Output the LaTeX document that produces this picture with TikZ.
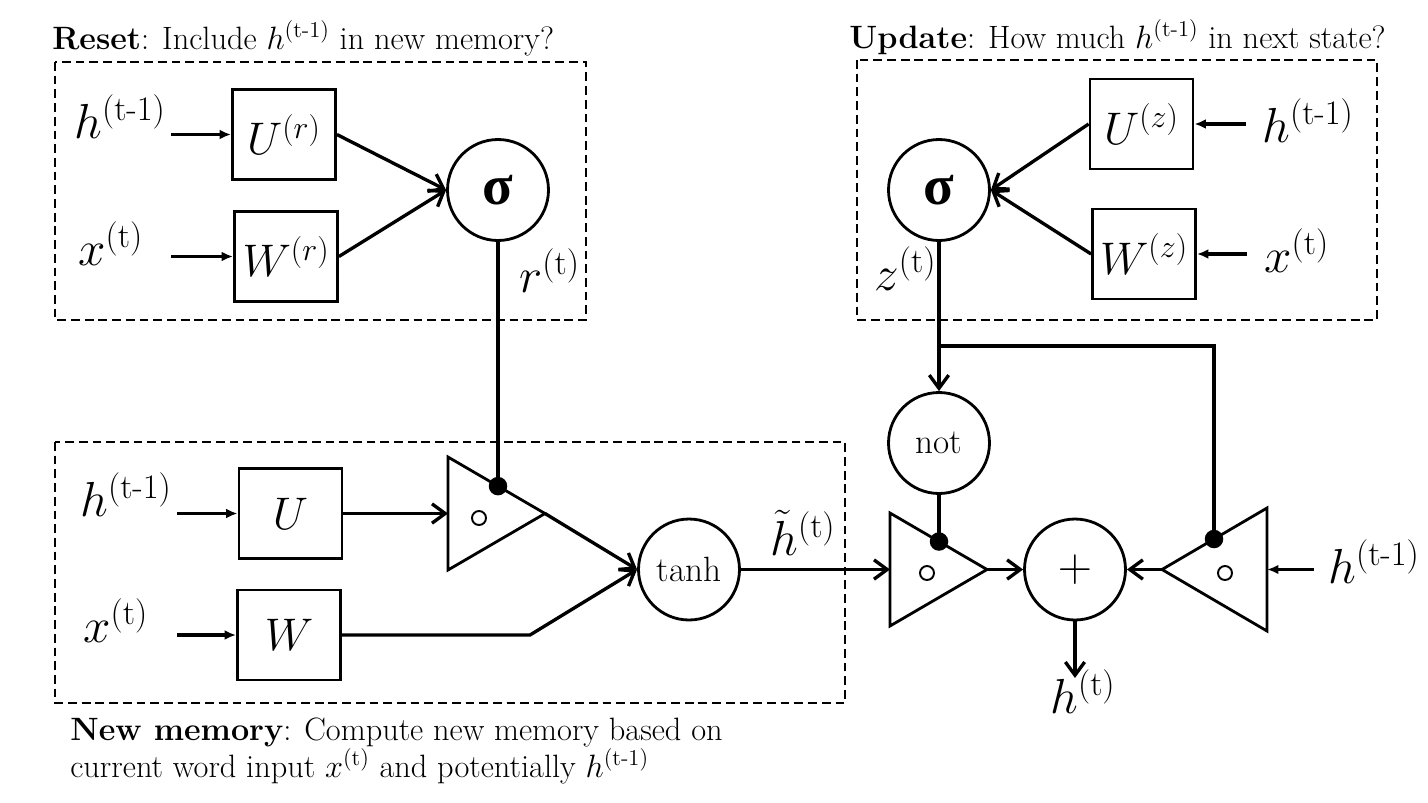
\RequirePackage{fix-cm}
\documentclass[tikz,border=0pt]{standalone}
\usepackage{amsmath}
\usepackage{fontspec}
\newfontfamily\sigfont{Liberation Serif}
\usetikzlibrary{arrows.meta,calc}
\newcommand{\tm}{\mathrm{t}\text{-}\mathrm{1}}
\begin{document}
\begin{tikzpicture}[x=0.02cm,y=-0.02cm,
  box/.style={draw,line width=1.6pt,minimum width=2.06cm,minimum height=1.8cm,inner sep=0,font=\fontsize{26}{30}\selectfont},
  circ/.style={draw,circle,line width=1.6pt,minimum size=2.02cm,inner sep=0},
  lab/.style={inner sep=0,font=\fontsize{28}{32}\selectfont},
  ttl/.style={inner sep=0,font=\fontsize{18.4}{22}\selectfont},
  grp/.style={draw,line width=1.4pt,dash pattern=on 5pt off 2.8pt},
  wire/.style={line width=1.9pt},
  inarr/.style={wire,-{Latex[length=6.5pt,width=5.5pt]}},
  barb/.style={wire,-{Straight Barb[length=7.5pt,width=11pt,line width=1.9pt]}},
  gate/.style={draw,line width=1.6pt,line join=miter},
  jdot/.style={circle,fill,inner sep=0,minimum size=0.37cm},
  hole/.style={circle,draw,line width=1.1pt,inner sep=0,minimum size=0.28cm},
  sig/.style={circ,font=\sigfont\bfseries\fontsize{32}{32}\selectfont},
  wordc/.style={circ,font=\fontsize{20}{24}\selectfont}
]
\useasboundingbox (0,0) rectangle (1428,802);

% ---------- Reset gate ----------
\node[ttl,anchor=base west] (tR) at (52,49) {\textbf{Reset}: Include $h^{(\tm)}$ in new memory?};
\draw[grp] (55,62) rectangle (586,320);
\node[box] (Ur) at (284,134.5) {$U^{(r)}$};
\node[box] (Wr) at (286,256.5) {$W^{(r)}$};
\node[sig] (sR) at (498,190) {σ};
\node[lab,anchor=base west] (hR) at (74,138) {$h^{(\tm)}$};
\node[lab,anchor=base west] (xR) at (78,265) {$x^{(\mathrm{t})}$};
\node[lab,anchor=base west] (rt) at (519,292) {$r^{(\mathrm{t})}$};
\coordinate (hRa) at (171,134.5);
\coordinate (xRa) at (171,256.5);
\draw[inarr] (hRa) -- (Ur.west);
\draw[inarr] (xRa) -- (Wr.west);
\draw[barb] (Ur.east) -- (sR.west);
\draw[barb] (Wr.east) -- (sR.west);

% ---------- Update gate ----------
\node[ttl,anchor=base west] (tU) at (849,48) {\textbf{Update}: How much $h^{(\tm)}$ in next state?};
\draw[grp] (857,60) rectangle (1377,320);
\node[box] (Uz) at (1141.5,124) {$U^{(z)}$};
\node[box] (Wz) at (1144,254) {$W^{(z)}$};
\node[sig] (sU) at (939,190) {σ};
\node[lab,anchor=base west] (hU) at (1262,142) {$h^{(\tm)}$};
\node[lab,anchor=base west] (xU) at (1264,272) {$x^{(\mathrm{t})}$};
\node[lab,anchor=base west] (zt) at (874,290) {$z^{(\mathrm{t})}$};
\coordinate (hUa) at (1246,124);
\coordinate (xUa) at (1247,254);
\draw[inarr] (hUa) -- (Uz.east);
\draw[inarr] (xUa) -- (Wz.east);
\draw[barb] (Uz.west) -- (sU.east);
\draw[barb] (Wz.west) -- (sU.east);

% ---------- New memory ----------
\draw[grp] (55,442) rectangle (845,703);
\node[box] (U) at (290.5,513.5) {$U$};
\node[box] (W) at (289,635) {$W$};
\node[lab,anchor=base west] (hN) at (80,516) {$h^{(\tm)}$};
\node[lab,anchor=base west] (xN) at (83,642) {$x^{(\mathrm{t})}$};
\coordinate (hNa) at (177,513.5);
\coordinate (xNa) at (177,635);
\draw[inarr] (hNa) -- (U.west);
\draw[inarr] (xNa) -- (W.west);
\node[ttl,anchor=base west] (nm1) at (70,740) {\textbf{New memory}: Compute new memory based on};
\node[ttl,anchor=base west] (nm2) at (70,777) {current word input $x^{(\mathrm{t})}$ and potentially $h^{(\tm)}$};

% triangle 1 (reset gating)
\coordinate (T1a) at (448,457);
\coordinate (T1b) at (448,570);
\coordinate (T1c) at (545,513.5);
\coordinate (T1in) at (448,513.5);
\coordinate (d1) at (498,486.1);
\draw[gate] (T1a) -- (T1c) -- (T1b) -- cycle;
\node[hole] (o1) at (479,518) {};
\draw[barb] (U.east) -- (T1in);
\draw[wire] (sR.south) -- (d1);

\node[wordc] (th) at (689,569.5) {tanh};
\coordinate (Wb) at (530,635);
\draw[barb] (T1c) -- (th.west);
\draw[barb] (W.east) -- (Wb) -- (th.west);
\node[lab,anchor=base west] (ht) at (770,555) {$\tilde{h}^{(\mathrm{t})}$};

% ---------- Output combination ----------
\node[wordc] (nt) at (939,443) {not};
\coordinate (jn) at (939,346);
\coordinate (jc) at (1214,346);
\draw[wire] (sU.south) -- (jn);
\draw[barb] (jn) -- (nt.north);

% triangle 2
\coordinate (T2a) at (890,513);
\coordinate (T2b) at (890,626);
\coordinate (T2c) at (987,569.5);
\coordinate (T2in) at (890,569.5);
\coordinate (d2) at (939,541.5);
\draw[gate] (T2a) -- (T2c) -- (T2b) -- cycle;
\node[hole] (o2) at (927,573) {};
\draw[barb] (th.east) -- (T2in);
\draw[wire] (nt.south) -- (d2);

\node[circ,font=\fontsize{27}{30}\selectfont] (pl) at (1075,569.5) {$+$};

% triangle 3
\coordinate (T3a) at (1267,508);
\coordinate (T3b) at (1267,631);
\coordinate (T3c) at (1162,569.5);
\coordinate (T3in) at (1267,569.5);
\coordinate (d3) at (1214,539);
\draw[gate] (T3a) -- (T3c) -- (T3b) -- cycle;
\node[hole] (o3) at (1225,573) {};
\draw[wire] (jn) -- (jc) -- (d3);

\draw[barb] (T2c) -- (pl.west);
\draw[barb] (T3c) -- (pl.east);
\node[lab,anchor=base west] (hP) at (1328,583) {$h^{(\tm)}$};
\coordinate (hPa) at (1314,569.5);
\draw[inarr] (hPa) -- (T3in);
\coordinate (hout) at (1075,678);
\draw[barb] (pl.south) -- (hout);
\node[lab,anchor=base west] (ho) at (1050,713) {$h^{(\mathrm{t})}$};

% junction dots
\node[jdot] at (d1) {};
\node[jdot] at (d2) {};
\node[jdot] at (d3) {};
\end{tikzpicture}
\end{document}
